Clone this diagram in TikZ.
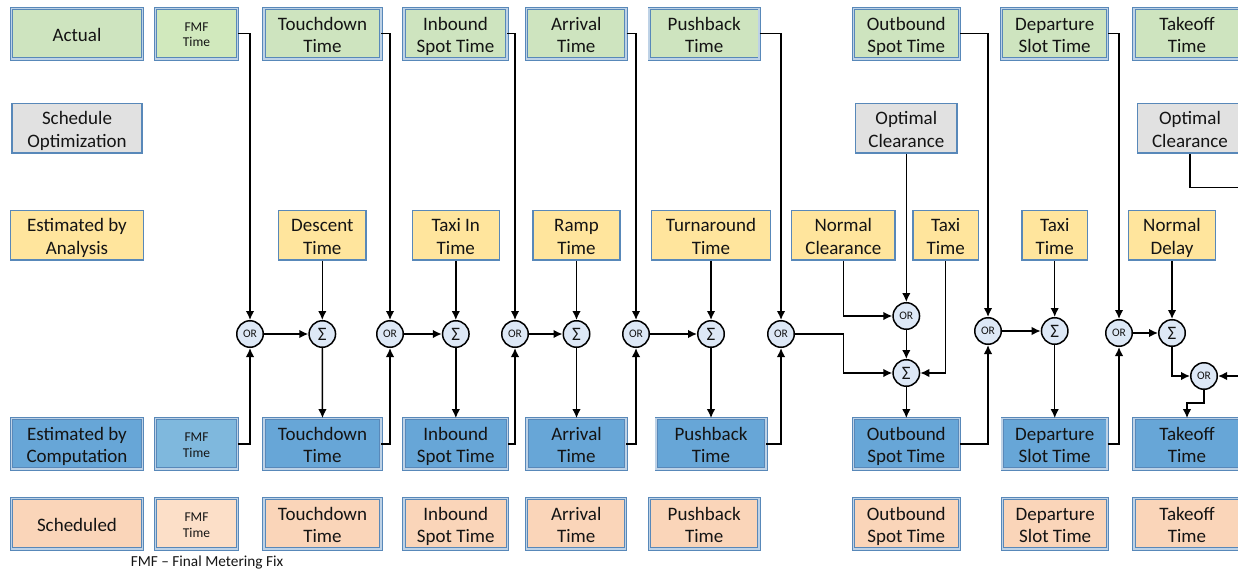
\documentclass[tikz,border=0pt]{standalone}
\usepackage{xcolor}
\usepackage{fontspec}
\setmainfont{Carlito}
\usetikzlibrary{arrows.meta}
\definecolor{actual}{RGB}{206,228,191}
\definecolor{fmfactual}{RGB}{209,233,189}
\definecolor{optimization}{RGB}{225,225,225}
\definecolor{analysis}{RGB}{255,229,157}
\definecolor{computation}{RGB}{103,166,215}
\definecolor{fmfcomputation}{RGB}{127,184,221}
\definecolor{scheduled}{RGB}{250,213,185}
\definecolor{fmfscheduled}{RGB}{252,223,200}
\definecolor{boxline}{RGB}{88,136,185}
\definecolor{boxstripe}{RGB}{190,210,230}
\definecolor{gatefill}{RGB}{221,232,246}
\definecolor{ink}{RGB}{20,20,20}
\newcommand{\boxfont}{\fontsize{19}{22.5}\selectfont}
\newcommand{\fmffont}{\fontsize{13.5}{15.5}\selectfont}
\tikzstyle{box}=[rectangle, align=center, inner sep=0pt, text=ink, font=\boxfont,
  text height=41.7pt, text depth=4pt]
\tikzstyle{oneline}=[text height=19.2pt, text depth=3pt]
\tikzstyle{dbox}=[box, draw=boxline, line width=.9pt, double=boxstripe, double distance=1.5pt, minimum height=50.5pt]
\tikzstyle{sbox}=[box, draw=boxline, line width=1.4pt, minimum height=49.6pt]
\tikzstyle{actual}=[dbox, fill=actual]
\tikzstyle{optimization}=[sbox, fill=optimization]
\tikzstyle{analysis}=[sbox, fill=analysis]
\tikzstyle{computation}=[dbox, fill=computation]
\tikzstyle{scheduled}=[dbox, fill=scheduled]
\tikzstyle{fmf}=[font=\fmffont, minimum width=81.7pt, text height=29.4pt, text depth=3pt]
\tikzstyle{gate}=[circle, draw=black, line width=1.5pt, fill=gatefill, minimum size=26.5pt, inner sep=0pt, text=ink]
\tikzstyle{orgate}=[gate, font=\fontsize{11.5}{12}\selectfont]
\tikzstyle{sumgate}=[gate, font=\fontsize{19}{19}\selectfont]
\tikzset{conn/.style={-{Latex[length=9pt,width=8.5pt]}, line width=1.5pt}}
\tikzset{wire/.style={line width=1.5pt}}
\tikzset{y=-1pt}
\tikzset{x=1pt}

\begin{document}
\begin{tikzpicture}
  \useasboundingbox (0,0) rectangle (1238,575);
  \clip (0,0) rectangle (1238,575);

  %% Row labels
  \draw (77,33.7) node[actual,oneline,minimum width=130.7pt] (L1) {Actual};
  \draw (77,128.3) node[optimization,minimum width=130.3pt] (L2) {Schedule\\Optimization};
  \draw (77,235.3) node[analysis,minimum width=132.6pt] (L3) {Estimated by\\Analysis};
  \draw (77,443.8) node[computation,minimum width=130.7pt] (L4) {Estimated by\\Computation};
  \draw (77,523.8) node[scheduled,oneline,minimum width=130.7pt] (L5) {Scheduled};

  %% Actual
  \draw (196.5,33.7) node[actual,fmf,fill=fmfactual] (A1) {FMF\\Time};
  \draw (322.5,33.7) node[actual,minimum width=117pt] (A2) {Touchdown\\Time};
  \draw (455.5,33.7) node[actual,minimum width=103pt] (A3) {Inbound\\Spot Time};
  \draw (576.3,33.7) node[actual,minimum width=99.5pt] (A4) {Arrival\\Time};
  \draw (704.2,33.7) node[actual,minimum width=110pt] (A5) {Pushback\\Time};
  \draw (906.3,33.7) node[actual,minimum width=106pt] (A6) {Outbound\\Spot Time};
  \draw (1054.7,33.7) node[actual,minimum width=106pt] (A7) {Departure\\Slot Time};
  \draw (1187,33.7) node[actual,minimum width=106pt] (A8) {Takeoff\\Time};

  %% Schedule optimization
  \draw (906.3,128.3) node[optimization,minimum width=101.3pt] (O1) {Optimal\\Clearance};
  \draw (1190,128.3) node[optimization,minimum width=104.6pt] (O2) {Optimal\\Clearance};

  %% Estimated by analysis
  \draw (322.3,235.3) node[analysis,minimum width=87.6pt] (E1) {Descent\\Time};
  \draw (455.8,235.3) node[analysis,minimum width=87pt] (E2) {Taxi In\\Time};
  \draw (576.5,235.3) node[analysis,minimum width=87pt] (E3) {Ramp\\Time};
  \draw (711,235.3) node[analysis,minimum width=118.6pt] (E4) {Turnaround\\Time};
  \draw (843.3,235.3) node[analysis,minimum width=103.3pt] (E5) {Normal\\Clearance};
  \draw (945.7,235.3) node[analysis,minimum width=65.3pt] (E6) {Taxi\\Time};
  \draw (1054.7,235.3) node[analysis,minimum width=65.6pt] (E7) {Taxi\\Time};
  \draw (1172,235.3) node[analysis,minimum width=87pt] (E8) {Normal\\Delay};

  %% Estimated by computation
  \draw (196.5,443.8) node[computation,fmf,fill=fmfcomputation] (C1) {FMF\\Time};
  \draw (322.5,443.8) node[computation,minimum width=117pt] (C2) {Touchdown\\Time};
  \draw (455.8,443.8) node[computation,minimum width=103.7pt] (C3) {Inbound\\Spot Time};
  \draw (576.5,443.8) node[computation,minimum width=99pt] (C4) {Arrival\\Time};
  \draw (711,443.8) node[computation,minimum width=109.7pt] (C5) {Pushback\\Time};
  \draw (906.3,443.8) node[computation,minimum width=106pt] (C6) {Outbound\\Spot Time};
  \draw (1054.7,443.8) node[computation,minimum width=105pt] (C7) {Departure\\Slot Time};
  \draw (1187,443.8) node[computation,minimum width=106pt] (C8) {Takeoff\\Time};

  %% Scheduled
  \draw (196.5,523.8) node[scheduled,fmf,fill=fmfscheduled] (S1) {FMF\\Time};
  \draw (322.5,523.8) node[scheduled,minimum width=117pt] (S2) {Touchdown\\Time};
  \draw (455.8,523.8) node[scheduled,minimum width=103.7pt] (S3) {Inbound\\Spot Time};
  \draw (576.2,523.8) node[scheduled,minimum width=99pt] (S4) {Arrival\\Time};
  \draw (704.2,523.8) node[scheduled,minimum width=109.7pt] (S5) {Pushback\\Time};
  \draw (906.3,523.8) node[scheduled,minimum width=106pt] (S6) {Outbound\\Spot Time};
  \draw (1055.2,523.8) node[scheduled,minimum width=105pt] (S7) {Departure\\Slot Time};
  \draw (1187,523.8) node[scheduled,minimum width=106pt] (S8) {Takeoff\\Time};

  %% Gates
  \draw (250,334) node[orgate] (OR1) {OR};
  \draw (322.3,334) node[sumgate] (SUM1) {Σ};
  \draw (390,334) node[orgate] (OR2) {OR};
  \draw (455.8,334) node[sumgate] (SUM2) {Σ};
  \draw (515,334) node[orgate] (OR3) {OR};
  \draw (576.5,334) node[sumgate] (SUM3) {Σ};
  \draw (636,334) node[orgate] (OR4) {OR};
  \draw (711,334) node[sumgate] (SUM4) {Σ};
  \draw (781,334) node[orgate] (OR5) {OR};
  \draw (906.3,316) node[orgate] (OR6) {OR};
  \draw (906.3,373) node[sumgate] (SUM5) {Σ};
  \draw (988,331) node[orgate] (OR7) {OR};
  \draw (1054.7,331) node[sumgate] (SUM6) {Σ};
  \draw (1119,333) node[orgate] (OR8) {OR};
  \draw (1172,333) node[sumgate] (SUM7) {Σ};
  \draw (1204,376) node[orgate] (OR9) {OR};

  \coordinate (O2out) at (1250,187.5);
  \coordinate (OR9in) at (1250,376);

  %% Connectors
  \draw[conn] (A1.east) -| (OR1.north);
  \draw[conn] (C1.east) -| (OR1.south);
  \draw[conn] (OR1) -- (SUM1);
  \draw[conn] (E1) -- (SUM1);
  \draw[conn] (SUM1) -- (C2);

  \draw[conn] (A2.east) -| (OR2.north);
  \draw[conn] (C2.east) -| (OR2.south);
  \draw[conn] (OR2) -- (SUM2);
  \draw[conn] (E2) -- (SUM2);
  \draw[conn] (SUM2) -- (C3);

  \draw[conn] (A3.east) -| (OR3.north);
  \draw[conn] (C3.east) -| (OR3.south);
  \draw[conn] (OR3) -- (SUM3);
  \draw[conn] (E3) -- (SUM3);
  \draw[conn] (SUM3) -- (C4);

  \draw[conn] (A4.east) -| (OR4.north);
  \draw[conn] (C4.east) -| (OR4.south);
  \draw[conn] (OR4) -- (SUM4);
  \draw[conn] (E4) -- (SUM4);
  \draw[conn] (SUM4) -- (C5);

  \draw[conn] (A5.east) -| (OR5.north);
  \draw[conn] (C5.east) -| (OR5.south);
  \draw[conn] (OR5.east) -| (E5.south |- SUM5.west) -- (SUM5.west);
  \draw[conn] (E5.south) |- (OR6.west);
  \draw[conn] (O1) -- (OR6);
  \draw[conn] (OR6) -- (SUM5);
  \draw[conn] (E6.south) |- (SUM5.east);
  \draw[conn] (SUM5) -- (C6);

  \draw[conn] (A6.east) -| (OR7.north);
  \draw[conn] (C6.east) -| (OR7.south);
  \draw[conn] (OR7) -- (SUM6);
  \draw[conn] (E7) -- (SUM6);
  \draw[conn] (SUM6) -- (C7);

  \draw[conn] (A7.east) -| (OR8.north);
  \draw[conn] (C7.east) -| (OR8.south);
  \draw[conn] (OR8) -- (SUM7);
  \draw[conn] (E8) -- (SUM7);
  \draw[conn] (SUM7.south) |- (OR9.west);
  \draw[wire] (O2.south) |- (O2out);
  \draw[conn] (OR9in) -- (OR9.east);
  \draw[conn] (OR9.south) -- ++(0,13) -| (C8.north);

  %% Footnote
  \draw (207,562) node[text=ink,font=\fontsize{15.3}{17}\selectfont] (note) {FMF -- Final Metering Fix};
\end{tikzpicture}
\end{document}
